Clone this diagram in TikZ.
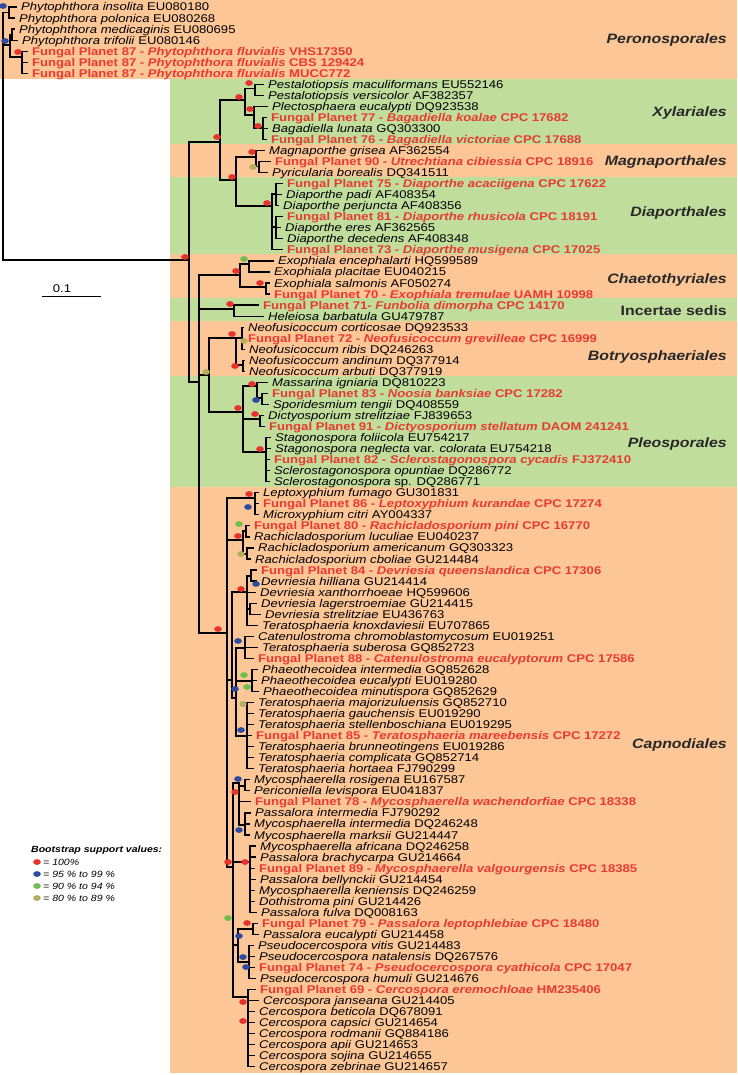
\documentclass[tikz,border=0pt]{standalone}
\usepackage{fontspec}
\setmainfont{Liberation Sans}[FakeStretch=1.17]
\tikzset{font=\small}

\definecolor{bandorange}{RGB}{252,198,150}
\definecolor{bandgreen}{RGB}{192,221,156}
\definecolor{fpred}{RGB}{232,58,50}
\definecolor{bsred}{RGB}{232,50,45}
\definecolor{bsblue}{RGB}{45,75,160}
\definecolor{bsgreen}{RGB}{110,190,80}
\definecolor{bsolive}{RGB}{180,175,95}
\definecolor{ordergray}{RGB}{40,40,40}

\tikzset{
	tax/.style={anchor=west, inner sep=0pt, text height=8pt, text depth=0pt, font=\fontsize{11.2}{11}\selectfont},
	branch/.style={line width=1.2pt, line cap=rect},
	order/.style={anchor=east, inner sep=0pt, text height=10pt, text depth=0pt, text=ordergray, font=\fontsize{13.6}{14}\selectfont\bfseries\itshape},
	legtext/.style={anchor=west, inner sep=0pt, text height=6.5pt, text depth=0pt, font=\fontsize{9}{9}\selectfont\itshape},
	bsdot/.style={x radius=3.8pt, y radius=2.9pt}
}

\newcommand{\taxon}[2]{\textit{#1} #2}
\newcommand{\fplan}[3]{\textcolor{fpred}{\bfseries Fungal Planet #1 - \textit{#2} #3}}
\newcommand{\leaf}[3]{%
	\node[tax] (t#1) at (#2,{7+(#1-1)*11.04}) {#3};
	\coordinate (e#1) at ([xshift=-5pt]t#1.west);}
\newcommand{\clade}[2]{\foreach \c in {#2}{\draw[branch] (#1) |- (\c);}}

\begin{document}
\begin{tikzpicture}[x=1pt, y=-1pt]
	\useasboundingbox (0,0) rectangle (737,1075);

	% order bands
	\fill[bandorange] (0,0) rectangle (737,79);
	\fill[bandgreen] (170,79) rectangle (737,144);
	\fill[bandorange] (170,144) rectangle (737,177);
	\fill[bandgreen] (170,177) rectangle (737,254);
	\fill[bandorange] (170,254) rectangle (737,298);
	\fill[bandgreen] (170,298) rectangle (737,321);
	\fill[bandorange] (170,321) rectangle (737,376);
	\fill[bandgreen] (170,376) rectangle (737,487);
	\fill[bandorange] (170,487) rectangle (737,1073);

	% taxa
	\leaf{1}{21}{\taxon{Phytophthora insolita}{EU080180}}
	\leaf{2}{19}{\taxon{Phytophthora polonica}{EU080268}}
	\leaf{3}{19}{\taxon{Phytophthora medicaginis}{EU080695}}
	\leaf{4}{22}{\taxon{Phytophthora trifolii}{EU080146}}
	\leaf{5}{32}{\fplan{87}{Phytophthora fluvialis}{VHS17350}}
	\leaf{6}{32}{\fplan{87}{Phytophthora fluvialis}{CBS 129424}}
	\leaf{7}{32}{\fplan{87}{Phytophthora fluvialis}{MUCC772}}
	\leaf{8}{268}{\taxon{Pestalotiopsis maculiformans}{EU552146}}
	\leaf{9}{268}{\taxon{Pestalotiopsis versicolor}{AF382357}}
	\leaf{10}{272}{\taxon{Plectosphaera eucalypti}{DQ923538}}
	\leaf{11}{271}{\fplan{77}{Bagadiella koalae}{CPC 17682}}
	\leaf{12}{272}{\taxon{Bagadiella lunata}{GQ303300}}
	\leaf{13}{271}{\fplan{76}{Bagadiella victoriae}{CPC 17688}}
	\leaf{14}{269}{\taxon{Magnaporthe grisea}{AF362554}}
	\leaf{15}{275}{\fplan{90}{Utrechtiana cibiessia}{CPC 18916}}
	\leaf{16}{272}{\taxon{Pyricularia borealis}{DQ341511}}
	\leaf{17}{287}{\fplan{75}{Diaporthe acaciigena}{CPC 17622}}
	\leaf{18}{286}{\taxon{Diaporthe padi}{AF408354}}
	\leaf{19}{283}{\taxon{Diaporthe perjuncta}{AF408356}}
	\leaf{20}{287}{\fplan{81}{Diaporthe rhusicola}{CPC 18191}}
	\leaf{21}{285}{\taxon{Diaporthe eres}{AF362565}}
	\leaf{22}{287}{\taxon{Diaporthe decedens}{AF408348}}
	\leaf{23}{287}{\fplan{73}{Diaporthe musigena}{CPC 17025}}
	\leaf{24}{278}{\taxon{Exophiala encephalarti}{HQ599589}}
	\leaf{25}{274}{\taxon{Exophiala placitae}{EU040215}}
	\leaf{26}{274}{\taxon{Exophiala salmonis}{AF050274}}
	\leaf{27}{274}{\fplan{70}{Exophiala tremulae}{UAMH 10998}}
	\leaf{28}{263}{\textcolor{fpred}{\bfseries Fungal Planet 71- \textit{Funbolia dimorpha} CPC 14170}}
	\leaf{29}{268}{\taxon{Heleiosa barbatula}{GU479787}}
	\leaf{30}{248}{\taxon{Neofusicoccum corticosae}{DQ923533}}
	\leaf{31}{248}{\fplan{72}{Neofusicoccum grevilleae}{CPC 16999}}
	\leaf{32}{249}{\taxon{Neofusicoccum ribis}{DQ246263}}
	\leaf{33}{249}{\taxon{Neofusicoccum andinum}{DQ377914}}
	\leaf{34}{249}{\taxon{Neofusicoccum arbuti}{DQ377919}}
	\leaf{35}{272}{\taxon{Massarina igniaria}{DQ810223}}
	\leaf{36}{272}{\fplan{83}{Noosia banksiae}{CPC 17282}}
	\leaf{37}{273}{\taxon{Sporidesmium tengii}{DQ408559}}
	\leaf{38}{268}{\taxon{Dictyosporium strelitziae}{FJ839653}}
	\leaf{39}{269}{\fplan{91}{Dictyosporium stellatum}{DAOM 241241}}
	\leaf{40}{275}{\taxon{Stagonospora foliicola}{EU754217}}
	\leaf{41}{275}{\textit{Stagonospora neglecta} var. \textit{colorata} EU754218}
	\leaf{42}{274}{\fplan{82}{Sclerostagonospora cycadis}{FJ372410}}
	\leaf{43}{274}{\taxon{Sclerostagonospora opuntiae}{DQ286772}}
	\leaf{44}{274}{\taxon{Sclerostagonospora}{sp. DQ286771}}
	\leaf{45}{263}{\taxon{Leptoxyphium fumago}{GU301831}}
	\leaf{46}{263}{\fplan{86}{Leptoxyphium kurandae}{CPC 17274}}
	\leaf{47}{263}{\taxon{Microxyphium citri}{AY004337}}
	\leaf{48}{254}{\fplan{80}{Rachicladosporium pini}{CPC 16770}}
	\leaf{49}{254}{\taxon{Rachicladosporium luculiae}{EU040237}}
	\leaf{50}{258}{\taxon{Rachicladosporium americanum}{GQ303323}}
	\leaf{51}{255}{\taxon{Rachicladosporium cboliae}{GU214484}}
	\leaf{52}{261}{\fplan{84}{Devriesia queenslandica}{CPC 17306}}
	\leaf{53}{261}{\taxon{Devriesia hilliana}{GU214414}}
	\leaf{54}{260}{\taxon{Devriesia xanthorrhoeae}{HQ599606}}
	\leaf{55}{261}{\taxon{Devriesia lagerstroemiae}{GU214415}}
	\leaf{56}{265}{\taxon{Devriesia strelitziae}{EU436763}}
	\leaf{57}{262}{\taxon{Teratosphaeria knoxdaviesii}{EU707865}}
	\leaf{58}{258}{\taxon{Catenulostroma chromoblastomycosum}{EU019251}}
	\leaf{59}{262}{\taxon{Teratosphaeria suberosa}{GQ852723}}
	\leaf{60}{258}{\fplan{88}{Catenulostroma eucalyptorum}{CPC 17586}}
	\leaf{61}{262}{\taxon{Phaeothecoidea intermedia}{GQ852628}}
	\leaf{62}{261}{\taxon{Phaeothecoidea eucalypti}{EU019280}}
	\leaf{63}{263}{\taxon{Phaeothecoidea minutispora}{GQ852629}}
	\leaf{64}{258}{\taxon{Teratosphaeria majorizuluensis}{GQ852710}}
	\leaf{65}{258}{\taxon{Teratosphaeria gauchensis}{EU019290}}
	\leaf{66}{258}{\taxon{Teratosphaeria stellenboschiana}{EU019295}}
	\leaf{67}{256}{\fplan{85}{Teratosphaeria mareebensis}{CPC 17272}}
	\leaf{68}{258}{\taxon{Teratosphaeria brunneotingens}{EU019286}}
	\leaf{69}{258}{\taxon{Teratosphaeria complicata}{GQ852714}}
	\leaf{70}{258}{\taxon{Teratosphaeria hortaea}{FJ790299}}
	\leaf{71}{254}{\taxon{Mycosphaerella rosigena}{EU167587}}
	\leaf{72}{254}{\taxon{Periconiella levispora}{EU041837}}
	\leaf{73}{255}{\fplan{78}{Mycosphaerella wachendorfiae}{CPC 18338}}
	\leaf{74}{255}{\taxon{Passalora intermedia}{FJ790292}}
	\leaf{75}{254}{\taxon{Mycosphaerella intermedia}{DQ246248}}
	\leaf{76}{254}{\taxon{Mycosphaerella marksii}{GU214447}}
	\leaf{77}{260}{\taxon{Mycosphaerella africana}{DQ246258}}
	\leaf{78}{260}{\taxon{Passalora brachycarpa}{GU214664}}
	\leaf{79}{259}{\fplan{89}{Mycosphaerella valgourgensis}{CPC 18385}}
	\leaf{80}{260}{\taxon{Passalora bellynckii}{GU214454}}
	\leaf{81}{259}{\taxon{Mycosphaerella keniensis}{DQ246259}}
	\leaf{82}{259}{\taxon{Dothistroma pini}{GU214426}}
	\leaf{83}{261}{\taxon{Passalora fulva}{DQ008163}}
	\leaf{84}{262}{\fplan{79}{Passalora leptophlebiae}{CPC 18480}}
	\leaf{85}{263}{\taxon{Passalora eucalypti}{GU214458}}
	\leaf{86}{258}{\taxon{Pseudocercospora vitis}{GU214483}}
	\leaf{87}{259}{\taxon{Pseudocercospora natalensis}{DQ267576}}
	\leaf{88}{259}{\fplan{74}{Pseudocercospora cyathicola}{CPC 17047}}
	\leaf{89}{260}{\taxon{Pseudocercospora humuli}{GU214676}}
	\leaf{90}{260}{\fplan{69}{Cercospora eremochloae}{HM235406}}
	\leaf{91}{263}{\taxon{Cercospora janseana}{GU214405}}
	\leaf{92}{259}{\taxon{Cercospora beticola}{DQ678091}}
	\leaf{93}{259}{\taxon{Cercospora capsici}{GU214654}}
	\leaf{94}{259}{\taxon{Cercospora rodmanii}{GQ884186}}
	\leaf{95}{259}{\taxon{Cercospora apii}{GU214653}}
	\leaf{96}{259}{\taxon{Cercospora sojina}{GU214655}}
	\leaf{97}{259}{\taxon{Cercospora zebrinae}{GU214657}}

	% internal nodes
	\coordinate (root) at (3,45);
	\coordinate (ph1) at (9,12.5);
	\coordinate (ph3) at (10,45);
	\coordinate (ph2) at (12,34.5);
	\coordinate (fluv) at (22,57);
	\coordinate (main) at (189,260);
	\coordinate (xmd) at (220,142);
	\coordinate (xyl) at (245,100);
	\coordinate (pest) at (255,88.5);
	\coordinate (plect) at (254,115);
	\coordinate (bag) at (263,128);
	\coordinate (md) at (236,180);
	\coordinate (mag) at (256,157);
	\coordinate (fp90) at (259,166.5);
	\coordinate (diap) at (272,206);
	\coordinate (d1) at (276,194);
	\coordinate (d2) at (276,227);
	\coordinate (rest) at (199,382);
	\coordinate (chaeto) at (240,275);
	\coordinate (exo1) at (249,264);
	\coordinate (exo2) at (266,287);
	\coordinate (inc) at (234,309);
	\coordinate (bp) at (209,375);
	\coordinate (bot) at (236,338);
	\coordinate (neo1) at (242,338);
	\coordinate (neo2) at (243,365);
	\coordinate (pleo) at (243,412);
	\coordinate (mass) at (257,386);
	\coordinate (spor) at (262,398);
	\coordinate (dict) at (260,419);
	\coordinate (stag) at (266,452);
	\coordinate (cap) at (227,633);
	\coordinate (lepto) at (255,498);
	\coordinate (rachi) at (243,540);
	\coordinate (r1) at (246,531);
	\coordinate (r2) at (247,554);
	\coordinate (dct) at (232,680);
	\coordinate (dev) at (247,592);
	\coordinate (dv1) at (251,576);
	\coordinate (dv2) at (250,609);
	\coordinate (ct) at (236,698);
	\coordinate (cat) at (245,648);
	\coordinate (phae) at (252,681);
	\coordinate (ter) at (247,736);
	\coordinate (my) at (233,867);
	\coordinate (my1) at (239,783);
	\coordinate (ros) at (245,786);
	\coordinate (pi) at (245,825);
	\coordinate (my2) at (250,862);
	\coordinate (pp) at (238,945);
	\coordinate (fp79) at (253,929);
	\coordinate (pseudo) at (249,962);
	\coordinate (cerc) at (248,997);

	% branches
	\clade{root}{ph1,ph3,main}
	\clade{ph1}{e1,e2}
	\clade{ph3}{ph2,fluv}
	\clade{ph2}{e3,e4}
	\clade{fluv}{e5,e6,e7}
	\clade{main}{xmd,rest}
	\clade{xmd}{xyl,md}
	\clade{xyl}{pest,plect}
	\clade{pest}{e8,e9}
	\clade{plect}{e10,bag}
	\clade{bag}{e11,e12,e13}
	\clade{md}{mag,diap}
	\clade{mag}{e14,fp90}
	\clade{fp90}{e15,e16}
	\clade{diap}{d1,d2,e23}
	\clade{d1}{e17,e18,e19}
	\clade{d2}{e20,e21,e22}
	\clade{rest}{chaeto,inc,bp,cap}
	\clade{chaeto}{exo1,exo2}
	\clade{exo1}{e24,e25}
	\clade{exo2}{e26,e27}
	\clade{inc}{e28,e29}
	\clade{bp}{bot,pleo}
	\clade{bot}{neo1,neo2}
	\clade{neo1}{e30,e31,e32}
	\clade{neo2}{e33,e34}
	\clade{pleo}{mass,dict,stag}
	\clade{mass}{e35,spor}
	\clade{spor}{e36,e37}
	\clade{dict}{e38,e39}
	\clade{stag}{e40,e41,e42,e43,e44}
	\clade{cap}{lepto,rachi,dct,my}
	\clade{lepto}{e45,e46,e47}
	\clade{rachi}{r1,r2}
	\clade{r1}{e48,e49}
	\clade{r2}{e50,e51}
	\clade{dct}{dev,ct}
	\clade{dev}{dv1,e54,dv2,e57}
	\clade{dv1}{e52,e53}
	\clade{dv2}{e55,e56}
	\clade{ct}{cat,phae,ter}
	\clade{cat}{e58,e59,e60}
	\clade{phae}{e61,e62,e63}
	\clade{ter}{e64,e65,e66,e67,e68,e69,e70}
	\clade{my}{my1,my2,pp,cerc}
	\clade{my1}{ros,e73,pi}
	\clade{ros}{e71,e72}
	\clade{pi}{e74,e75,e76}
	\clade{my2}{e77,e78,e79,e80,e81,e82,e83}
	\clade{pp}{fp79,pseudo}
	\clade{fp79}{e84,e85}
	\clade{pseudo}{e86,e87,e88,e89}
	\clade{cerc}{e90,e91,e92,e93,e94,e95,e96,e97}

	% bootstrap dots
	\foreach \x/\y in {18/52, 249/83, 239/97, 250/109, 258/126, 217/137, 252/152, 232/177, 267/203, 185/257, 236/271, 260/283, 230/304, 232/334, 235/366, 252/384, 238/408, 255/414, 260/449, 249/494, 238/536, 241/589, 218/629, 235/792, 228/862, 245/862, 247/923, 243/1002, 243/1021}
		\fill[bsred] (\x,\y) ellipse [bsdot];
	\foreach \x/\y in {3/6, 5/41, 256/400, 248/507, 256/584, 238/641, 235/689, 241/730, 238/779, 239/830, 239/936, 243/957, 246/967}
		\fill[bsblue] (\x,\y) ellipse [bsdot];
	\foreach \x/\y in {244/259, 239/524, 244/675, 247/687, 228/918}
		\fill[bsgreen] (\x,\y) ellipse [bsdot];
	\foreach \x/\y in {253/167, 244/341, 206/372, 241/554, 243/704}
		\fill[bsolive] (\x,\y) ellipse [bsdot];

	% order names
	\node[order] (oPero) at (727,39) {Peronosporales};
	\node[order] (oXyl) at (727,112) {Xylariales};
	\node[order] (oMag) at (727,161) {Magnaporthales};
	\node[order] (oDia) at (727,212) {Diaporthales};
	\node[order] (oCha) at (727,278) {Chaetothyriales};
	\node[order, font=\fontsize{13.6}{14}\selectfont\bfseries] (oInc) at (727,310) {Incertae sedis};
	\node[order] (oBot) at (727,355) {Botryosphaeriales};
	\node[order] (oPle) at (727,442) {Pleosporales};
	\node[order] (oCap) at (727,743) {Capnodiales};

	% scale bar
	\coordinate (sbl) at (42,296);
	\coordinate (sbr) at (101,296);
	\draw[line width=1pt] (sbl) -- (sbr);
	\node[tax, anchor=center] (sblab) at (62,288) {0.1};

	% legend
	\node[legtext, font=\fontsize{9}{9}\selectfont\bfseries\itshape] (bstitle) at (31,849) {Bootstrap support values:};
	\node[legtext] (bs1) at (43,862) {= 100\%};
	\node[legtext] (bs2) at (43,874) {= 95 \% to 99 \%};
	\node[legtext] (bs3) at (43,886) {= 90 \% to 94 \%};
	\node[legtext] (bs4) at (43,898) {= 80 \% to 89 \%};
	\fill[bsred] (37,862) ellipse [bsdot];
	\fill[bsblue] (37,874) ellipse [bsdot];
	\fill[bsgreen] (37,886) ellipse [bsdot];
	\fill[bsolive] (37,898) ellipse [bsdot];
\end{tikzpicture}
\end{document}
